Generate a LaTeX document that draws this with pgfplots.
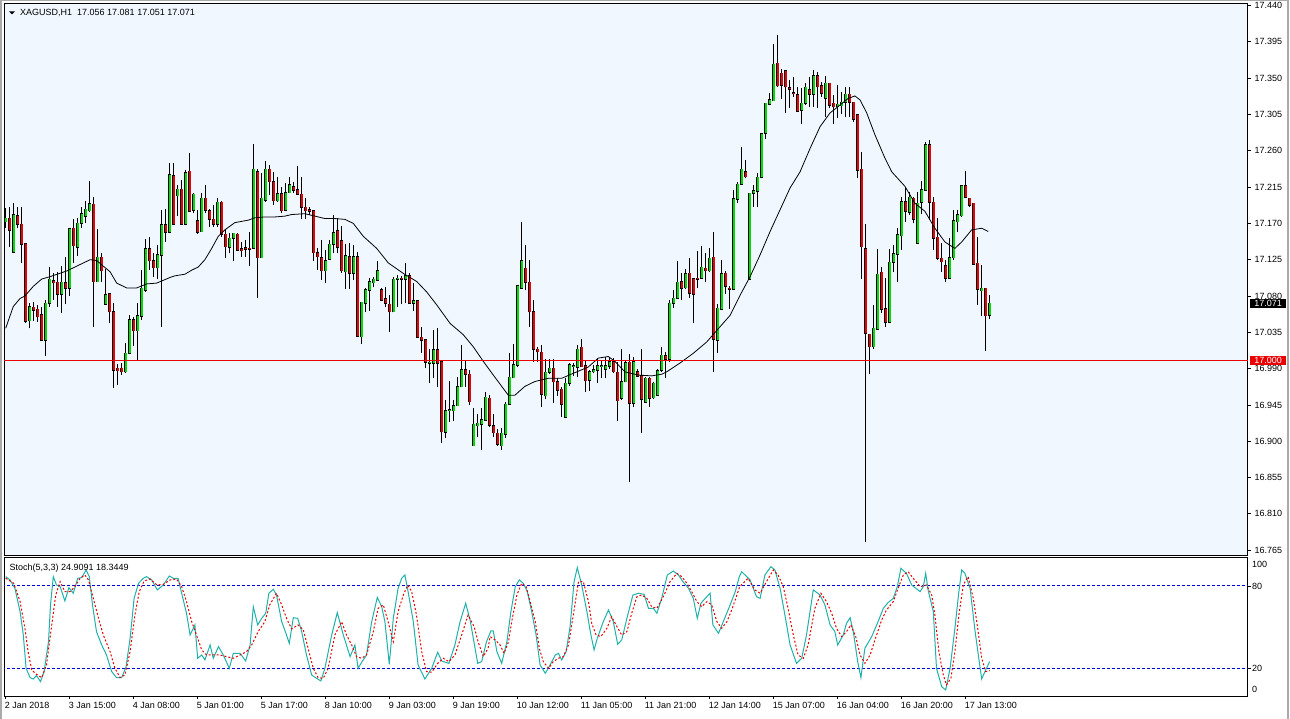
\documentclass[border=0pt]{standalone}
\usepackage{pgfplots}
\pgfplotsset{compat=1.18}
\usepackage{pgfplotstable}
\usepackage{fontspec}
\setmainfont{Liberation Sans}
\definecolor{panelbg}{RGB}{240,247,255}
\definecolor{bull}{RGB}{0,220,0}
\definecolor{bear}{RGB}{235,0,0}
\definecolor{stochk}{RGB}{32,178,170}
\definecolor{levelblue}{RGB}{0,0,220}
\definecolor{framegray}{RGB}{170,170,170}
\newcommand\lab{\fontsize{9}{10}\selectfont}
\pgfplotsset{
  candlebar/.style={draw=none, mark=none, forget plot,
    error bars/.cd, y dir=plus, y explicit, error mark=none},
}

\pgfplotstableread{
i O H L C
0 17.1722 17.1887 17.1639 17.1763
1 17.1763 17.1908 17.1404 17.1618
2 17.1342 17.1949 17.1342 17.1804
3 17.1792 17.1908 17.1639 17.1689
4 17.1689 17.1908 17.1205 17.1445
5 17.1445 17.1445 17.0470 17.0490
6 17.0494 17.0709 17.0399 17.0668
7 17.0660 17.0730 17.0494 17.0627
8 17.0635 17.0689 17.0482 17.0544
9 17.0565 17.0668 17.0255 17.0255
10 17.0255 17.0751 17.0061 17.0709
11 17.0709 17.1164 17.0668 17.1007
12 17.0986 17.1081 17.0751 17.0965
13 17.0970 17.1102 17.0668 17.0825
14 17.0825 17.1172 17.0594 17.0970
15 17.0965 17.1288 17.0697 17.0895
16 17.0895 17.1631 17.0800 17.1631
17 17.1639 17.1751 17.1205 17.1424
18 17.1404 17.1763 17.1296 17.1701
19 17.1701 17.1908 17.1639 17.1817
20 17.1792 17.1982 17.1701 17.1875
21 17.1858 17.2226 17.1846 17.1941
22 17.1937 17.2032 17.0420 17.0978
23 17.0978 17.1627 17.0978 17.1280
24 17.1280 17.1329 17.0978 17.1114
25 17.0697 17.1131 17.0689 17.0813
26 17.0825 17.0833 17.0461 17.0606
27 17.0606 17.0709 16.9656 16.9883
28 16.9904 16.9957 16.9697 16.9875
29 16.9904 16.9966 16.9821 16.9862
30 16.9862 17.0213 16.9850 17.0090
31 17.0090 17.0565 17.0090 17.0503
32 17.0503 17.0544 17.0180 17.0370
33 17.0370 17.0709 16.9999 17.0552
34 17.0552 17.1123 17.0503 17.0895
35 17.0875 17.1503 17.0854 17.1383
36 17.1383 17.1536 17.1123 17.1238
37 17.1238 17.1329 17.1040 17.1151
38 17.1151 17.1432 17.1007 17.1308
39 17.1308 17.1866 17.0420 17.1680
40 17.1680 17.1875 17.1474 17.1589
41 17.1589 17.2445 17.1577 17.2300
42 17.2288 17.2445 17.1689 17.1689
43 17.2044 17.2176 17.1792 17.2123
44 17.2123 17.2238 17.1689 17.1689
45 17.1689 17.2362 17.1680 17.2329
46 17.2346 17.2569 17.1854 17.1854
47 17.1866 17.2073 17.1825 17.2061
48 17.1730 17.1866 17.1569 17.1589
49 17.1598 17.2073 17.1598 17.2011
50 17.2011 17.2176 17.1825 17.1866
51 17.1854 17.1879 17.1651 17.1751
52 17.1751 17.1928 17.1660 17.1689
53 17.1693 17.2011 17.1660 17.1961
54 17.1961 17.1978 17.1536 17.1565
55 17.1565 17.1627 17.1275 17.1412
56 17.1403 17.1577 17.1329 17.1515
57 17.1515 17.1585 17.1238 17.1577
58 17.1565 17.1577 17.1362 17.1370
59 17.1383 17.1474 17.1280 17.1362
60 17.1395 17.1494 17.1288 17.1379
61 17.1390 17.1598 17.1176 17.1380
62 17.1391 17.2684 17.1391 17.2370
63 17.2342 17.2370 17.0771 17.1275
64 17.1275 17.2321 17.1275 17.2011
65 17.1990 17.2478 17.1970 17.2370
66 17.2370 17.2424 17.2052 17.2218
67 17.2218 17.2342 17.1928 17.1982
68 17.1982 17.2280 17.1970 17.2065
69 17.2065 17.2147 17.1833 17.1858
70 17.1866 17.2197 17.1866 17.2081
71 17.2081 17.2280 17.2073 17.2176
72 17.2156 17.2218 17.2073 17.2114
73 17.2114 17.2412 17.2052 17.2061
74 17.2061 17.2280 17.1751 17.1899
75 17.1899 17.2011 17.1751 17.1858
76 17.1866 17.1899 17.1804 17.1850
77 17.1858 17.1866 17.1238 17.1337
78 17.1337 17.1391 17.1123 17.1288
79 17.1275 17.1494 17.0999 17.1114
80 17.1114 17.1370 17.0966 17.1234
81 17.1259 17.1494 17.1247 17.1441
82 17.1441 17.1804 17.1329 17.1585
83 17.1606 17.1763 17.1329 17.1403
84 17.1482 17.1668 17.1081 17.1114
85 17.1102 17.1440 17.0883 17.1296
86 17.1283 17.1453 17.0883 17.1081
87 17.1081 17.1432 17.0998 17.1283
88 17.1283 17.1350 17.0296 17.0304
89 17.0296 17.0730 17.0205 17.0722
90 17.0709 17.0895 17.0598 17.0874
91 17.0874 17.1019 17.0618 17.0974
92 17.0965 17.1031 17.0907 17.1007
93 17.0998 17.1238 17.0990 17.1110
94 17.0874 17.0900 17.0750 17.0750
95 17.0763 17.0916 17.0660 17.0709
96 17.0697 17.0812 17.0358 17.0606
97 17.0606 17.1031 17.0606 17.1007
98 17.1007 17.1060 17.0668 17.1019
99 17.1019 17.1052 17.0697 17.1007
100 17.1007 17.1205 17.0709 17.1052
101 17.1048 17.1081 17.0709 17.0709
102 17.0709 17.0957 17.0618 17.0742
103 17.0742 17.0750 17.0284 17.0288
104 17.0288 17.0420 17.0089 17.0255
105 17.0255 17.0255 16.9903 16.9978
106 16.9966 17.0139 16.9717 16.9978
107 16.9966 17.0379 16.9779 17.0131
108 17.0131 17.0399 16.9668 16.9966
109 16.9986 16.9986 16.8974 16.9118
110 16.9110 16.9511 16.9036 16.9379
111 16.9383 16.9750 16.9242 16.9388
112 16.9379 16.9511 16.9255 16.9441
113 16.9441 16.9800 16.9437 16.9676
114 16.9676 17.0193 16.9668 16.9883
115 16.9883 16.9998 16.9676 16.9829
116 16.9829 16.9883 16.9449 16.9490
117 16.8945 16.9408 16.8945 16.9209
118 16.9193 16.9337 16.9056 16.9222
119 16.9209 16.9408 16.8891 16.9263
120 16.9263 16.9614 16.9255 16.9544
121 16.9531 16.9573 16.9180 16.9201
122 16.9189 16.9337 16.9056 16.9106
123 16.9098 16.9147 16.8941 16.8961
124 16.8945 16.9160 16.8891 16.9098
125 16.9085 16.9490 16.9044 16.9457
126 16.9457 17.0089 16.9449 16.9792
127 16.9788 17.0201 16.9780 16.9945
128 16.9945 17.0936 16.9924 17.0924
129 17.0895 17.1713 17.0895 17.1234
130 17.1143 17.1432 17.0874 17.0969
131 17.0969 17.1246 17.0420 17.0606
132 17.0606 17.0750 16.9986 17.0139
133 17.0139 17.0172 16.9986 17.0110
134 17.0102 17.0193 16.9428 16.9581
135 16.9564 17.0015 16.9519 16.9854
136 16.9854 17.0015 16.9833 16.9903
137 16.9903 17.0015 16.9478 16.9738
138 16.9738 16.9779 16.9560 16.9635
139 16.9643 16.9676 16.9296 16.9457
140 16.9296 16.9779 16.9296 16.9717
141 16.9717 16.9974 16.9684 16.9945
142 16.9930 16.9974 16.9812 16.9935
143 16.9916 17.0193 16.9800 17.0139
144 17.0164 17.0267 16.9924 16.9924
145 16.9932 16.9998 16.9614 16.9750
146 16.9759 16.9883 16.9622 16.9862
147 16.9862 16.9945 16.9841 16.9883
148 16.9883 17.0027 16.9726 16.9932
149 16.9932 17.0007 16.9780 16.9936
150 16.9891 17.0048 16.9780 16.9932
151 16.9932 17.0048 16.9891 16.9986
152 16.9986 17.0027 16.9841 16.9862
153 16.9854 16.9986 16.9255 16.9502
154 16.9531 17.0139 16.9511 16.9738
155 16.9738 17.0007 16.9730 16.9974
156 16.9978 17.0077 16.8498 16.9469
157 16.9469 17.0048 16.9428 16.9986
158 16.9862 16.9891 16.9800 16.9808
159 16.9808 17.0139 16.9098 16.9519
160 16.9482 16.9800 16.9478 16.9779
161 16.9779 16.9800 16.9428 16.9531
162 16.9540 16.9738 16.9523 16.9717
163 16.9569 16.9891 16.9560 16.9874
164 16.9883 17.0172 16.9862 17.0064
165 17.0056 17.0110 16.9779 17.0015
166 17.0015 17.0750 16.9986 17.0709
167 17.0709 17.0874 17.0647 17.0771
168 17.0771 17.1234 17.0763 17.0969
169 17.0977 17.1081 17.0750 17.0895
170 17.0903 17.1130 17.0887 17.1072
171 17.1081 17.1267 17.0779 17.0833
172 17.1010 17.1019 17.0461 17.0820
173 17.1019 17.1358 17.0895 17.1006
174 17.1019 17.1424 17.1010 17.1155
175 17.1143 17.1337 17.0977 17.1114
176 17.1114 17.1391 17.1102 17.1267
177 17.1279 17.1597 16.9862 17.0263
178 17.0255 17.0697 17.0089 17.0647
179 17.0639 17.1246 17.0626 17.1072
180 17.1081 17.1110 17.0820 17.0924
181 17.0895 17.0924 17.0639 17.0883
182 17.0883 17.2114 17.0874 17.2002
183 17.2002 17.2217 17.1948 17.2184
184 17.2184 17.2651 17.2184 17.2370
185 17.2341 17.2486 17.2258 17.2279
186 17.1010 17.2072 17.0998 17.2072
187 17.2072 17.2176 17.1907 17.2101
188 17.2101 17.2320 17.1907 17.2271
189 17.2271 17.2816 17.2267 17.2808
190 17.2816 17.3188 17.2746 17.3188
191 17.3176 17.3312 17.3167 17.3229
192 17.3221 17.3923 17.3221 17.3671
193 17.3684 17.4035 17.3395 17.3407
194 17.3560 17.3614 17.3242 17.3415
195 17.3589 17.3601 17.3064 17.3395
196 17.3382 17.3477 17.3126 17.3362
197 17.3320 17.3510 17.3271 17.3308
198 17.3291 17.3395 17.3085 17.3093
199 17.3105 17.3374 17.2928 17.3188
200 17.3188 17.3436 17.3167 17.3386
201 17.3353 17.3519 17.3138 17.3300
202 17.3300 17.3601 17.3147 17.3531
203 17.3531 17.3581 17.3126 17.3395
204 17.3403 17.3457 17.3271 17.3312
205 17.3250 17.3531 17.3023 17.3436
206 17.3437 17.3437 17.3127 17.3168
207 17.3189 17.3292 17.2928 17.3147
208 17.3147 17.3416 17.3011 17.3176
209 17.3160 17.3325 17.3052 17.3201
210 17.3201 17.3395 17.3023 17.3300
211 17.3300 17.3395 17.3023 17.3201
212 17.3201 17.3209 17.2962 17.2990
213 17.3044 17.3044 17.2259 17.2362
214 17.2371 17.2590 17.1011 17.1412
215 17.1383 17.1689 16.7747 17.0338
216 17.0325 17.0325 16.9829 17.0172
217 17.0172 17.0689 17.0143 17.0400
218 17.0391 17.1383 17.0379 17.1069
219 17.1094 17.1164 17.0586 17.0639
220 17.0639 17.1019 17.0420 17.0474
221 17.0474 17.1383 17.0462 17.1218
222 17.1218 17.1433 17.1094 17.1321
223 17.1321 17.1648 17.0970 17.1557
224 17.1548 17.2032 17.1371 17.1970
225 17.1970 17.2156 17.1722 17.1854
226 17.1838 17.2094 17.1805 17.2024
227 17.2011 17.2032 17.1701 17.1755
228 17.1453 17.2094 17.1453 17.1949
229 17.1962 17.2226 17.1813 17.2115
230 17.2115 17.2714 17.2115 17.2672
231 17.2672 17.2734 17.1743 17.1962
232 17.1962 17.2032 17.1371 17.1515
233 17.1528 17.1772 17.1247 17.1267
234 17.1267 17.1453 17.1102 17.1226
235 17.1176 17.1247 17.0970 17.1020
236 17.1020 17.1524 17.1020 17.1276
237 17.1276 17.1867 17.1247 17.1730
238 17.1722 17.1867 17.1590 17.1805
239 17.1796 17.2176 17.1784 17.2164
240 17.2164 17.2350 17.2011 17.2024
241 17.2011 17.2019 17.1908 17.1929
242 17.1949 17.1949 17.1185 17.1193
243 17.1205 17.1536 17.0689 17.0887
244 17.0867 17.1185 17.0557 17.0896
245 17.0896 17.0896 17.0119 17.0557
246 17.0560 17.0810 17.0510 17.0710
}\candles

\begin{document}
\begin{tikzpicture}
\useasboundingbox (0pt,0pt) rectangle (1290pt,-719pt);
\fill[white] (0pt,0pt) rectangle (1290pt,-719pt);
\draw[framegray, line width=1.5pt] (0.75pt,-719pt) -- (0.75pt,-0.75pt) -- (1287.75pt,-0.75pt) -- (1287.75pt,-719pt);

% ---------------- main price panel ----------------
\begin{axis}[
  at={(4pt,-555.3pt)}, anchor=south west,
  width=1244pt, height=551.3pt, scale only axis,
  xmin=-0.425, xmax=310.575, ymin=16.75857, ymax=17.44197,
  axis background/.style={fill=panelbg},
  axis line style={black, line width=1pt},
  xtick=\empty,
  ytick={16.765,16.81,16.855,16.9,16.945,16.99,17.035,17.08,17.125,17.17,17.215,17.26,17.305,17.35,17.395,17.44},
  ytick pos=right, yticklabel pos=right,
  tick align=outside, major tick length=3pt,
  tick style={black, line width=0.8pt},
  scaled y ticks=false,
  yticklabel style={font=\lab, /pgf/number format/fixed, /pgf/number format/fixed zerofill, /pgf/number format/precision=3, /pgf/number format/assume math mode=true},
]
% wicks
\addplot[candlebar, error bar style={draw=black, line width=1pt, solid}]
  table[x=i, y=L, y error plus expr=\thisrow{H}-\thisrow{L}] {\candles};
% bull bodies
\addplot[restrict expr to domain={\thisrow{C}-\thisrow{O}}{0:1}, candlebar,
  error bar style={draw=black, line width=3.1pt, solid, line cap=butt, shorten <=-0.6pt, shorten >=-0.6pt}]
  table[x=i, y=O, y error plus expr=\thisrow{C}-\thisrow{O}] {\candles};
\addplot[restrict expr to domain={\thisrow{C}-\thisrow{O}}{0:1}, candlebar,
  error bar style={draw=bull, line width=1.7pt, solid, line cap=butt}]
  table[x=i, y=O, y error plus expr=\thisrow{C}-\thisrow{O}] {\candles};
% bear bodies
\addplot[restrict expr to domain={\thisrow{C}-\thisrow{O}}{-1:0}, candlebar,
  error bar style={draw=black, line width=3.1pt, solid, line cap=butt, shorten <=-0.6pt, shorten >=-0.6pt}]
  table[x=i, y=C, y error plus expr=\thisrow{O}-\thisrow{C}] {\candles};
\addplot[restrict expr to domain={\thisrow{C}-\thisrow{O}}{-1:0}, candlebar,
  error bar style={draw=bear, line width=1.7pt, solid, line cap=butt}]
  table[x=i, y=C, y error plus expr=\thisrow{O}-\thisrow{C}] {\candles};
% moving average
\addplot[black, line width=0.8pt, mark=none, forget plot] coordinates {
(0,17.040) (1.9,17.067) (3.6,17.077) (4.8,17.080) (6.9,17.092) (9,17.101) (11.1,17.104) (15.25,17.111) (17.75,17.117) (21.1,17.125) (22.75,17.124) (24.4,17.117) (26.1,17.110) (27.75,17.096) (30.25,17.090) (32.75,17.090) (35.25,17.095) (37.75,17.096) (41.1,17.103) (42.3,17.105) (44.8,17.107) (46.5,17.112) (48.15,17.116) (49.8,17.125) (51.5,17.139) (53.15,17.154) (54.8,17.162) (57.3,17.171) (60.65,17.174) (62.3,17.177) (64.8,17.178) (67.3,17.178) (69.8,17.179) (71.5,17.181) (74.8,17.182) (76.5,17.180) (78.15,17.178) (79.8,17.176) (82.3,17.176) (84.8,17.175) (86.9,17.170) (89.4,17.154) (92.75,17.139) (95.65,17.121) (99.4,17.108) (102.75,17.098) (105.25,17.085) (107.75,17.069) (111.1,17.046) (114.4,17.032) (116.9,17.017) (119.4,16.999) (121.9,16.982) (124,16.968) (125.65,16.957) (127.3,16.957) (129.8,16.968) (132.3,16.974) (135.65,16.978) (139,16.978) (142.3,16.985) (145.65,16.992) (148.15,17.003) (150.65,17.005) (152.3,16.999) (154.8,16.986) (158.15,16.982) (161.5,16.981) (164,16.983) (165.25,16.986) (168.6,16.997) (171.9,17.009) (175.25,17.023) (178.6,17.042) (181.1,17.056) (183.6,17.081) (186.1,17.104) (188.6,17.131) (191.1,17.160) (193.6,17.187) (196.1,17.214) (198.6,17.234) (201.1,17.263) (203.6,17.290) (206.1,17.307) (208.15,17.315) (210.65,17.325) (212.3,17.328) (213.6,17.323) (215.25,17.307) (217.3,17.280) (219.8,17.251) (221.5,17.234) (224.8,17.216) (227.3,17.195) (229.8,17.185) (232.3,17.164) (234.8,17.147) (237.3,17.139) (239,17.147) (241.5,17.162) (244,17.164) (245.65,17.160)
};
% horizontal line at 17.000
\addplot[bear, line width=1pt, mark=none, forget plot] coordinates {(-1,17.000) (312,17.000)};
\end{axis}

% ---------------- stochastic panel ----------------
\begin{axis}[
  at={(4pt,-696pt)}, anchor=south west,
  width=1244pt, height=138.7pt, scale only axis,
  xmin=-0.425, xmax=310.575, ymin=-0.2, ymax=100.9,
  axis line style={black, line width=1pt},
  xtick={0,16,...,240},
  xticklabels={2 Jan 2018, 3 Jan 15:00, 4 Jan 08:00, 5 Jan 01:00, 5 Jan 17:00, 8 Jan 10:00, 9 Jan 03:00, 9 Jan 19:00, 10 Jan 12:00, 11 Jan 05:00, 11 Jan 21:00, 12 Jan 14:00, 15 Jan 07:00, 16 Jan 04:00, 16 Jan 20:00, 17 Jan 13:00},
  xtick pos=bottom,
  ytick={20,80}, yticklabels={}, ytick pos=right,
  tick align=outside, major tick length=3pt,
  tick style={black, line width=0.8pt},
  xticklabel style={font=\lab, anchor=north west, inner sep=0pt, xshift=-1pt, yshift=-3pt},
]
\addplot[levelblue, line width=1pt, dash pattern=on 3pt off 2pt, mark=none, forget plot] coordinates {(-1,80) (312,80)};
\addplot[levelblue, line width=1pt, dash pattern=on 3pt off 2pt, mark=none, forget plot] coordinates {(-1,20) (312,20)};
% %K
\addplot[stochk, line width=1pt, mark=none, forget plot] coordinates {
(0,86.8) (1.1,84.4) (2.3,78.3) (3.6,61.3) (4.4,44.3) (5.1,20) (6.1,13.2) (6.9,12.2) (7.7,14.7) (8.7,10.3) (9.6,17.6) (10.7,39.4) (11.2,66.2) (11.9,86.8) (12.7,80.7) (13.6,79.5) (14.8,69.1) (15.8,78.8) (16.9,74.7) (18,85.6) (19,86.1) (20.1,91.7) (20.9,86.8) (21.7,66.2) (22.7,46.7) (24,37) (25.2,29.7) (26.5,17.6) (27.7,13.2) (29,13.2) (30.1,21.2) (31.1,41.9) (32.1,71) (33.2,81.9) (34.4,85.6) (35.2,86.8) (36.5,84.4) (37.9,77.1) (39.4,80.7) (40.9,87.3) (41.9,85.6) (43.1,85.6) (44.2,72.2) (45.2,60.1) (46.1,44.3) (47.3,51.6) (48,27.3) (49,29.7) (49.8,26.1) (51.1,37) (51.9,27.3) (53.2,35.8) (54.4,29.7) (55.9,20) (56.9,30.9) (58.6,30.9) (60,25.3)
(61.1,37) (61.9,64.9) (63,51.6) (64,56.4) (65,60.1) (65.8,74.7) (66.9,77.6) (67.7,73.4) (69,54) (70.2,44.3) (70.9,38.2) (71.9,56.9) (73,56.4) (74,46.7) (75.2,29.7) (76.5,15.1) (77.7,12.7) (78.8,10.8) (79.8,20) (81.5,44.3) (82.9,60.6) (84.4,44.3) (86.1,28.5) (87.3,37) (88.1,20) (89.1,24.9) (90.2,29.7) (91.5,54) (92.9,71.7) (94,64.9) (94.8,54) (95.9,22.9) (96.9,56.4) (98.1,78.3) (99,85.6) (99.8,88) (100.6,75.9) (101.9,54) (103.1,22.4) (104.8,12.2) (106.5,20) (108,31.7) (109,25.3) (110.8,23.6) (112.3,37) (113.6,54) (115,67.4) (116.1,55.2) (116.9,41.9) (118,23.6) (119,24.9) (120.2,39.4) (121.3,47.2)
(121.9,47.2) (122.8,32.1) (124,23.6) (125.3,39.4) (126.3,61.3) (127.4,79.5) (128.4,84.4) (129.4,82) (130.4,75.9) (131.5,61.3) (132.6,44.3) (133.6,22.4) (134.9,16.4) (136.1,22.4) (137.4,29.7) (138.2,30.9) (139,26.1) (140.1,32.1) (141.1,50.4) (142.1,83.2) (142.9,93.4) (144,80.7) (145.3,61.3) (146.3,44.3) (147.1,33.4) (147.9,41.9) (149.4,54) (150.7,62.5) (151.9,54) (153,37.5) (154,40.6) (155.3,56.4) (156.8,73.4) (158.2,74.7) (159.6,73.9) (160.7,63.7) (161.9,63.7) (162.8,60.1) (164,71) (165.4,88) (166.9,90.9) (168.2,88) (169.3,83.2) (170.7,78.3) (171.9,71) (172.9,56.4) (173.8,67.4) (174.9,71) (176.1,74.7) (176.8,51.6) (178.2,45.5) (179.4,54) (181.1,66.2) (182.4,75.9) (183.4,86.8)
(184,90.4) (186.1,84.4) (187.7,72.2) (188.6,71) (189.8,88) (191.3,94.1) (192.3,91.7) (193.6,78.3) (194.8,58.9) (196.1,37) (197.7,23.6) (199,27.3) (200.2,44.3) (201.9,77.1) (203.6,73.4) (204.8,66.2) (206.1,51.6) (207.3,46.7) (208,37) (209.4,44.3) (210.2,52.8) (211.1,56.9) (211.9,46.7) (213,24.9) (213.8,13.2) (214.8,34.6) (216.5,43.1) (218.1,54) (219.4,63.7) (220.6,67.9) (221.9,71) (222.9,79.5) (223.8,92.9) (225.2,89.2) (226.5,80.7) (228.6,75.9) (229.4,79.5) (230,89.2) (230.6,77.1) (231.9,61.3) (232.7,20) (234,6.6) (235,4.2) (236.1,20) (237.3,49.2) (238.3,75.9) (239,91.7) (239.8,89.2) (241.1,78.3) (242.3,48) (243.5,22.4) (244,12.2) (245,18.8) (246,24.9)
};
% %D
\addplot[bear, line width=1pt, dash pattern=on 2pt off 2pt, mark=none, forget plot] coordinates {
(0,85.6) (2,82) (3.6,68.6) (4.8,49.2) (5.6,32.1) (6.5,18.8) (7.7,15.6) (9,13.2) (10.2,22.4) (11.4,49.2) (12.5,73.4) (13.6,83.2) (14.8,75.9) (16.1,75.9) (17.3,79.5) (18.6,85.6) (19.8,88) (20.7,84.4) (21.9,71) (23.2,56.4) (24.4,44.3) (26.1,32.1) (27.3,20) (28.6,13.2) (29.8,15.1) (31.1,32.1) (32.3,58.8) (33.4,75.9) (34.6,83.6) (36.1,85.1) (37.8,80.7) (39.4,81.2) (41.1,84.4) (42.7,85.1) (44,79.5) (45.2,68.6) (46.5,54) (47.7,44.3) (49,33.4) (50.2,29.7) (51.9,29.7) (53.6,29.7) (55.2,28.5) (56.9,27.3) (58.6,29.7) (60.2,32.1)
(61.5,37) (63.1,46.7) (64.8,54) (66,66.2) (67.7,74.7) (69,66.2) (70.2,56.4) (71.5,48.7) (73.1,51.6) (74.4,48) (75.6,34.6) (76.9,20) (78.1,13.2) (79.4,12.7) (80.6,20) (82.3,44.3) (84,54) (85.2,44.3) (86.5,37) (87.7,28.5) (89,27.3) (90.2,29.7) (91.9,46.7) (93.1,63.7) (94.4,66.2) (95.6,54) (96.9,39.4) (98.1,61.3) (99.4,73.4) (100.5,80.7) (101.5,75.9) (102.7,58.8) (104,32.1) (105.2,17.6) (106.5,17.1) (108,23.6) (109.4,27.3) (110.8,24.9) (112.3,29.7) (114,44.3) (115.6,58.8) (117.1,50.4) (118.1,39.4) (119.4,28.5) (120.6,34.6)
(121.1,43.1) (122.4,40.6) (123.6,37) (124.6,30.9) (125.7,39.4) (126.5,54) (127.8,73.4) (129,82) (130.1,79.5) (131.1,68.6) (132.4,54) (133.4,34.6) (134.4,24.9) (135.7,20) (136.9,24.9) (138.2,27.3) (139.4,28.5) (140.7,37) (141.9,58.8) (143.2,83.2) (144.4,83.2) (145.7,68.6) (146.5,52.8) (147.6,44.3) (148.8,43.1) (150.3,49.2) (151.5,57.6) (152.8,50.4) (154,44.3) (155.3,46.7) (156.5,60.1) (157.8,72.2) (159,73.4) (160.3,71) (161.5,64.9) (162.8,63.7) (164.4,72.2) (166.1,83.2) (167.8,89.2) (169,86.8) (170.3,82) (171.5,75.9) (172.8,68.6) (174,64.9) (175.3,68.6) (176.5,66.2) (177.8,54) (179,49.2) (180.3,54) (181.5,62.5) (182.8,73.4)
(183.5,79.5) (185.6,85.6) (187.3,77.1) (188.6,74.7) (190.2,83.2) (191.9,91.7) (193.1,88) (194.4,79.5) (195.6,63.7) (196.9,44.3) (198.1,29.7) (199.4,27.3) (200.6,37) (202.3,63.7) (203.8,74.7) (205.2,68.6) (206.5,60.1) (207.7,49.2) (209,43.1) (210.2,46.7) (211.3,51.6) (212.5,43.1) (213.6,29.7) (214.8,23.6) (216.1,29.7) (217.3,40.6) (219,55.2) (220.2,62.5) (221.9,68.6) (223.1,78.3) (224.4,88) (225.6,90.4) (226.9,85.6) (228.6,79.5) (230.2,80.7) (231.5,73.4) (232.3,58.9) (233.3,32.1) (234.4,15.1) (235.2,7.9) (236.3,12.7) (237.3,32.1) (238.3,58.9) (239.4,80.7) (240.6,86.8) (241.9,71) (243,49.2) (244,27.3) (245,17.6) (246,18.3)
};
\end{axis}

% ---------------- texts ----------------
\fill[black] (9pt,-11.3pt) -- (15pt,-11.3pt) -- (12pt,-14.5pt) -- cycle;
\node[anchor=base west, inner sep=0pt, font=\lab] at (20pt,-16pt) {XAGUSD,H1\ \ 17.056 17.081 17.051 17.071};
\node[anchor=base west, inner sep=0pt, font=\lab] at (9.3pt,-570pt) {Stoch(5,3,3) 24.9091 18.3449};
\node[anchor=west, inner sep=0pt, font=\lab] at (1252pt,-564.3pt) {100};
\node[anchor=west, inner sep=0pt, font=\lab] at (1252pt,-586pt) {80};
\node[anchor=west, inner sep=0pt, font=\lab] at (1252pt,-668.3pt) {20};
\node[anchor=west, inner sep=0pt, font=\lab] at (1252pt,-689.3pt) {0};
\node[anchor=west, fill=black, text=white, inner sep=0pt, minimum width=36pt, minimum height=9.5pt, font=\lab] at (1250pt,-303.6pt) {17.071};
\node[anchor=west, fill=bear, text=white, inner sep=0pt, minimum width=36pt, minimum height=9.5pt, font=\lab] at (1250pt,-360.6pt) {17.000};
\end{tikzpicture}
\end{document}
